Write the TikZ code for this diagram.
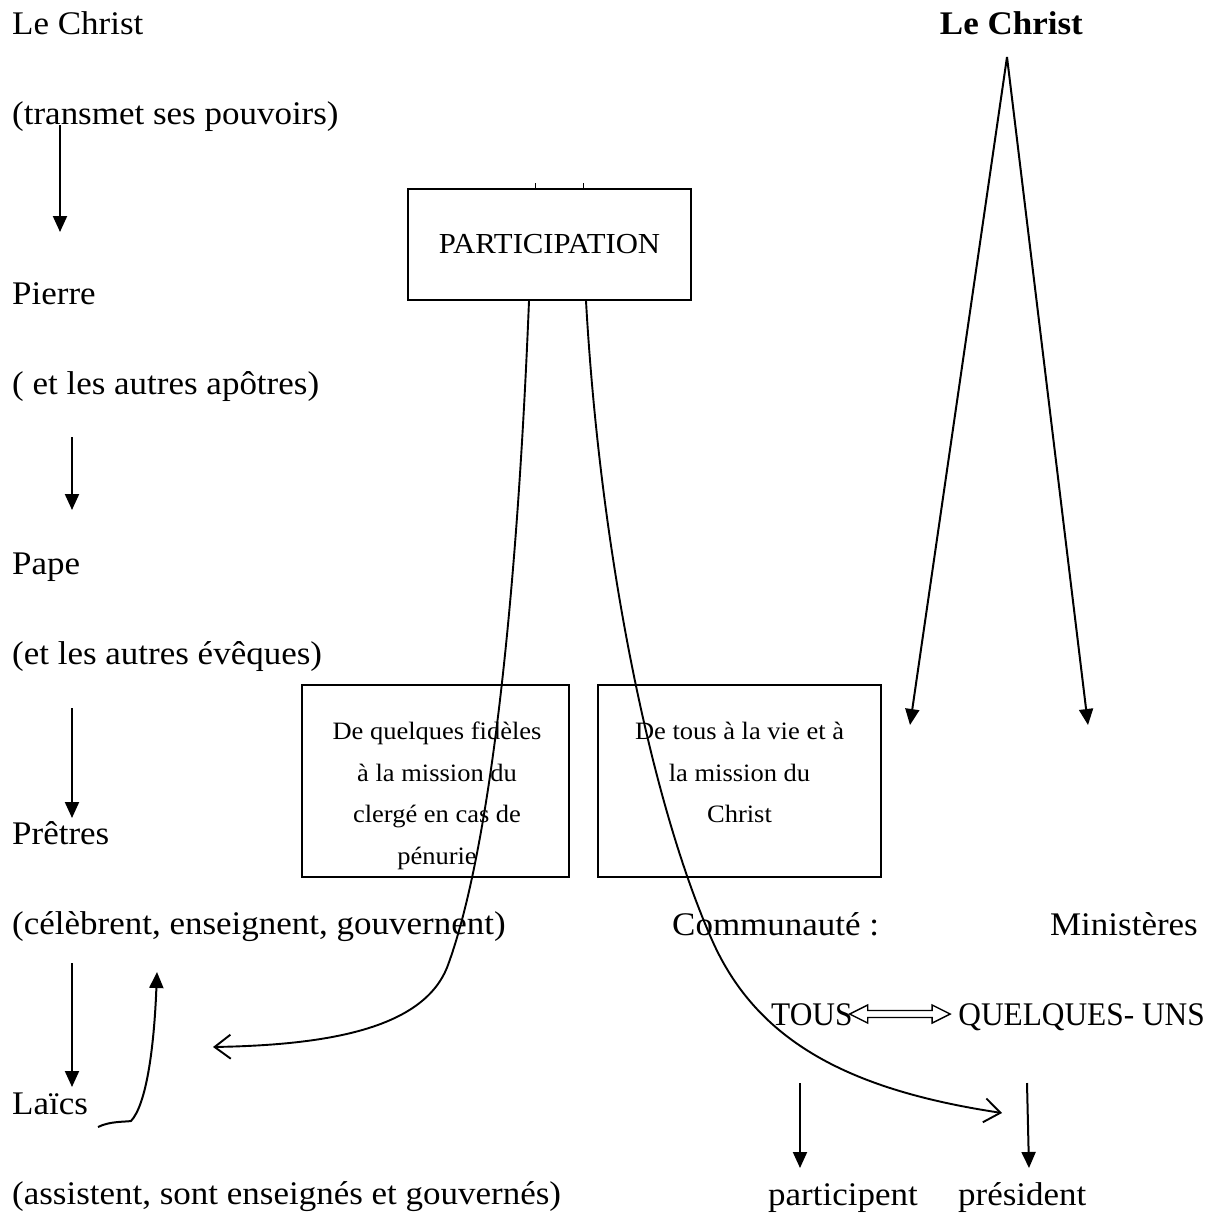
\documentclass[tikz,border=0pt]{standalone}
\usepackage{fontspec}
\setmainfont{Liberation Serif}[FakeStretch=1.06]
\newfontfamily\capsfont{Liberation Serif}[FakeStretch=0.95]
\usetikzlibrary{arrows.meta,calc}

\tikzset{
  txt/.style={inner sep=0pt, anchor=base west, font=\fontsize{33}{40}\selectfont},
  txtr/.style={txt, anchor=base east},
  capstxt/.style={txt, font=\fontsize{33}{40}\selectfont\capsfont},
  framebox/.style={draw, line width=1.8pt, inner sep=0pt},
  boxtext/.style={inner sep=0pt, anchor=north, align=center, font=\fontsize{25}{41.5}\selectfont},
  downarrow/.style={line width=2pt, -{Triangle[length=16pt,width=14pt]}},
  curvearrow/.style={line width=1.9pt, -{Straight Barb[length=16pt,width=24pt]}},
  hollow/.style={draw, line width=1.4pt, line join=miter},
}

\begin{document}
\begin{tikzpicture}[x=1pt, y=-1pt]
\useasboundingbox (0,0) rectangle (1217,1218);

% colonne de gauche
\node[txt] (christL) at (12,34) {Le Christ};
\node[txt] (transmet) at (12,124) {(transmet ses pouvoirs)};
\node[txt] (pierre) at (12,304) {Pierre};
\node[txt] (apotres) at (12,394) {( et les autres apôtres)};
\node[txt] (pape) at (12,574) {Pape};
\node[txt] (eveques) at (12,664) {(et les autres évêques)};
\node[txt] (pretres) at (12,844) {Prêtres};
\node[txt] (celebrent) at (12,934) {(célèbrent, enseignent, gouvernent)};
\node[txt] (laics) at (12,1114) {Laïcs};
\node[txt] (assistent) at (12,1204) {(assistent, sont enseignés et gouvernés)};

\draw[downarrow] ($(transmet.base west)+(48,1)$) -- ($(pierre.base west)+(48,-72)$);
\draw[downarrow] ($(apotres.base west)+(60,43)$) -- ($(pape.base west)+(60,-64)$);
\draw[downarrow] ($(eveques.base west)+(60,44)$) -- ($(pretres.base west)+(60,-26)$);
\draw[downarrow] ($(celebrent.base west)+(60,29)$) -- ($(laics.base west)+(60,-27)$);

\coordinate (laicsOut) at ($(laics.base west)+(86,13)$);
\coordinate (laicsUp) at ($(celebrent.base west)+(145,38)$);
\draw[downarrow] (laicsOut) .. controls +(12,-6) and +(-6,1) .. ($(laicsOut)+(33,-6)$)
  .. controls +(15,-16) and +(-3,78) .. (laicsUp);

% participation
\node[framebox, minimum width=283pt, minimum height=111pt,
  font=\fontsize{29}{34}\selectfont] (particip) at (549.5,244.5) {PARTICIPATION};
\draw[line width=0.6pt] ([xshift=-14.5pt]particip.north) -- +(0,-5);
\draw[line width=0.6pt] ([xshift=33.5pt]particip.north) -- +(0,-5);

\node[framebox, minimum width=267pt, minimum height=192pt] (fideles) at (435.5,781) {};
\node[framebox, minimum width=283pt, minimum height=192pt] (tous) at (739.5,781) {};
\node[boxtext] (fidelesT) at (437,722) {De quelques fidèles\\à la mission du\\clergé en cas de\\pénurie};
\node[boxtext] (tousT) at (739.5,722) {De tous à la vie et à\\la mission du\\Christ};

% colonne de droite
\node[txt, font=\fontsize{33}{40}\selectfont\bfseries, anchor=base east] (christR) at (1083,34) {Le Christ};
\coordinate (apex) at (1007,57);
\coordinate (leftTip) at (910,725);
\coordinate (rightTip) at (1088,725);
\draw[downarrow] (apex) -- (leftTip);
\draw[downarrow] (apex) -- (rightTip);

\node[txt] (communaute) at (672,935) {Communauté :};
\node[txtr] (ministeres) at (1198,935) {Ministères};
\node[capstxt] (tousW) at (771,1025) {TOUS};
\node[capstxt, anchor=base east] (quelques) at (1205,1025) {QUELQUES- UNS};
\node[txt] (participent) at (768,1205) {participent};
\node[txt] (president) at (958,1205) {président};

% double fleche creuse
\coordinate (dl) at ([xshift=-3pt,yshift=11pt]tousW.base east);
\coordinate (dr) at ([xshift=-8pt,yshift=11pt]quelques.base west);
\draw[hollow] (dl) -- ($(dl)+(18,-9)$) -- ($(dl)+(18,-3.5)$) -- ($(dr)+(-18,-3.5)$)
  -- ($(dr)+(-18,-9)$) -- (dr) -- ($(dr)+(-18,9)$) -- ($(dr)+(-18,3.5)$)
  -- ($(dl)+(18,3.5)$) -- ($(dl)+(18,9)$) -- cycle;

\draw[downarrow] ($(participent.base west)+(32,-122)$) -- ($(participent.base west)+(32,-37)$);
\draw[downarrow] ($(president.base west)+(69,-122)$) -- ($(president.base west)+(71,-37)$);

% courbes
\coordinate (laicsIn) at (213,1047);
\coordinate (presIn) at (1002,1113);
\draw[curvearrow] ([xshift=-20.5pt]particip.south) .. controls (517,600) and (490,850) .. (448,965)
  .. controls (425,1028) and (330,1045) .. (laicsIn);
\draw[curvearrow] ([xshift=36.5pt]particip.south) .. controls (600,550) and (650,800) .. (712,940)
  .. controls (757,1042) and (850,1090) .. (presIn);
\end{tikzpicture}
\end{document}
